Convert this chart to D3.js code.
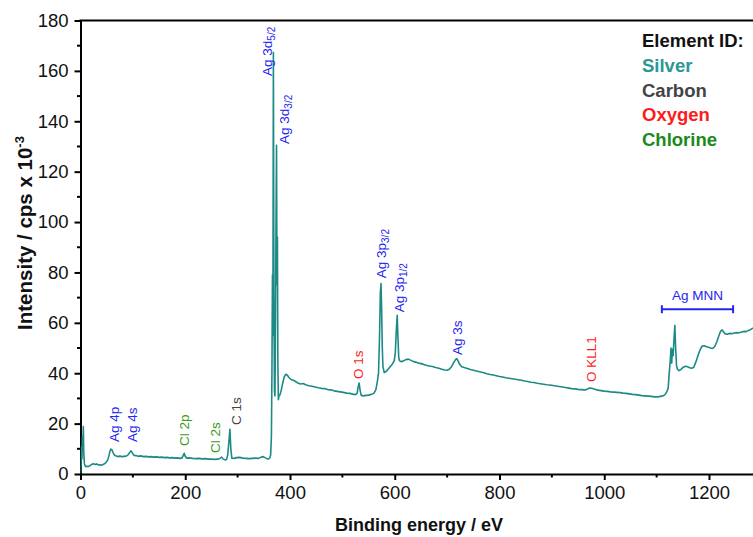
<!DOCTYPE html>
<html>
<head>
<meta charset="utf-8">
<script src="https://cdn.jsdelivr.net/npm/d3@7"></script>
<style>
  html, body { margin: 0; padding: 0; background: #fff; }
  svg { display: block; font-family: "Liberation Sans", Arial, sans-serif; }
</style>
</head>
<body>
<div id="chart"></div>
<script>
// survey spectrum, [binding energy eV, intensity cps x 1e-3]
const spectrum = [
  [0, 0.3], [1, 4], [2, 11], [2.8, 6], [3.6, 15], [4.5, 9], [5.4, 18.8], [6.3, 8], [7.5, 4], [9, 3.2],
  [10.5, 2.9], [13, 3.1], [16, 3.0], [19, 3.4], [22, 3.9], [25, 4.1], [28, 3.8], [31, 4.0], [34, 3.6],
  [37, 3.7], [40, 3.5], [43, 3.8], [46, 4.1], [49, 4.6], [52, 5.6], [54, 7.0], [56, 8.8], [58, 9.9],
  [60, 9.6], [62, 8.6], [64.5, 7.6], [67, 7.2], [71, 6.9], [75, 7.1], [79, 6.9], [83, 7.0], [87, 7.1],
  [90, 7.4], [93, 8.2], [96.4, 9.2], [99, 8.4], [102, 7.4], [106, 7.3], [110, 7.0], [115, 7.2],
  [120, 6.9], [125, 7.0], [130, 6.8], [135, 6.9], [140, 6.7], [145, 6.8], [150, 6.6], [155, 6.7],
  [160, 6.5], [165, 6.6], [170, 6.4], [175, 6.5], [180, 6.3], [185, 6.4], [190, 6.2], [194, 6.4],
  [196, 7.3], [198, 8.2], [200, 7.0], [203, 6.3], [208, 6.4], [214, 6.2], [220, 6.1], [226, 6.2],
  [232, 6.0], [238, 6.1], [244, 5.9], [250, 5.9], [256, 5.8], [262, 5.9], [266, 6.2], [269.5, 6.7],
  [272, 6.0], [276, 5.6], [279, 5.8], [281, 7.5], [283, 12], [285.3, 17.7], [287, 10], [289, 6.3],
  [293, 6.2], [298, 6.5], [304, 6.6], [310, 6.3], [316, 6.2], [322, 6.1], [328, 6.2], [334, 6.3],
  [340, 6.2], [345, 6.7], [349, 6.9], [353, 6.4], [358, 5.9], [361, 6.2], [363, 7.5],
  [364.5, 15], [365.5, 40], [366.5, 79], [367.3, 55], [368.3, 167.3], [369.3, 70], [370.3, 33],
  [371.3, 31], [372.3, 60], [373.3, 100], [374.3, 130.5], [375.2, 75], [376, 94], [376.8, 45],
  [377.8, 29.5], [379, 31], [381, 31.5], [383, 33], [386, 36], [389, 38.5], [392, 39.6], [395, 39.2],
  [398, 38.3], [402, 37.5], [406, 37.2], [410, 36.8], [415, 36.1], [420, 35.7], [425, 35.9],
  [430, 35.4], [436, 35.0], [442, 34.8], [448, 34.5], [454, 34.2], [460, 34.0], [466, 33.9],
  [472, 33.5], [478, 33.4], [484, 33.0], [490, 32.8], [496, 32.6], [502, 32.4], [508, 32.1],
  [514, 32.0], [520, 31.7], [525, 31.5], [528, 31.9], [530, 34.5], [532, 36.1], [534, 33],
  [536, 31.2], [540, 31.0], [545, 31.2], [550, 31.3], [555, 31.6], [560, 32.0], [564, 33.5],
  [567, 37], [569, 40], [571, 55], [572.5, 72], [573.8, 75.6], [575, 65], [576.2, 50], [577.5, 42.5],
  [580, 40.3], [584, 40.8], [588, 41.8], [592, 42.8], [596, 43.8], [599, 45], [601, 48], [603, 57],
  [604.7, 63], [606, 55], [607.5, 46.5], [609, 45], [612, 44.6], [616, 44.8], [621, 45.4],
  [626, 45.6], [631, 45.1], [636, 44.6], [642, 44.3], [648, 43.9], [654, 43.6], [660, 43.2],
  [666, 42.9], [672, 42.7], [678, 42.3], [684, 42.0], [690, 41.6], [696, 41.3], [700, 41.2],
  [704, 41.6], [708, 42.5], [712, 44], [716, 45.4], [718.5, 45.8], [721, 44.8], [724, 43.5],
  [728, 42.6], [734, 42.2], [740, 41.8], [746, 41.4], [752, 41.1], [758, 40.8], [764, 40.5],
  [770, 40.2], [776, 39.8], [782, 39.5], [788, 39.3], [794, 39.0], [800, 38.7], [806, 38.5],
  [812, 38.2], [818, 38.0], [824, 37.8], [830, 37.6], [836, 37.4], [842, 37.2], [848, 36.9],
  [854, 36.7], [860, 36.4], [866, 36.3], [872, 36.0], [878, 35.8], [884, 35.6], [890, 35.4],
  [896, 35.3], [902, 35.1], [908, 34.9], [914, 34.7], [920, 34.5], [926, 34.3], [932, 34.1],
  [938, 33.9], [944, 33.8], [950, 33.6], [956, 33.5], [962, 33.4], [966, 33.5], [970, 34.0],
  [974, 34.1], [978, 33.9], [982, 33.6], [988, 33.3], [994, 33.1], [1000, 32.9], [1006, 32.8],
  [1012, 32.6], [1018, 32.5], [1024, 32.4], [1030, 32.3], [1036, 32.1], [1042, 32.0], [1048, 31.8],
  [1054, 31.6], [1060, 31.5], [1066, 31.3], [1072, 31.1], [1078, 31.0], [1084, 30.9], [1090, 30.8],
  [1096, 30.6], [1102, 30.6], [1107, 30.8], [1112, 31.0], [1116, 31.5], [1119, 32.5], [1122, 34],
  [1124, 40], [1126, 45], [1127.5, 50], [1128.8, 44], [1130, 49.5], [1131.5, 47], [1133, 53],
  [1134.8, 59], [1136.3, 50], [1138, 43], [1140, 41.5], [1143, 41.0], [1147, 41.6], [1151, 42.4],
  [1155, 42.8], [1159, 42.6], [1163, 42.2], [1167, 42.0], [1171, 42.4], [1175, 44.5], [1179, 47.0],
  [1183, 49.3], [1187, 50.8], [1191, 50.9], [1195, 50.5], [1199, 50.3], [1203, 50.0], [1207, 49.8],
  [1211, 50.6], [1215, 52.5], [1219, 55.0], [1222, 56.6], [1225, 57.2], [1228, 56.4], [1231, 55.6],
  [1235, 55.5], [1239, 55.8], [1243, 55.7], [1247, 55.9], [1251, 56.1], [1255, 56.0], [1259, 56.2],
  [1263, 56.4], [1267, 56.6], [1271, 56.5], [1275, 57.0], [1279, 57.3], [1283, 57.8], [1288, 58.1]
];

const xTicks = [0, 200, 400, 600, 800, 1000, 1200];
const yTicks = [0, 20, 40, 60, 80, 100, 120, 140, 160, 180];

// peak labels: text, subscript, baseline energy, bottom intensity, element
const peakLabels = [
  ["Ag 4p", "", 72.6, 12.7, "Ag"],
  ["Ag 4s", "", 108.8, 12.7, "Ag"],
  ["Cl 2p", "", 208, 11.1, "Cl"],
  ["Cl 2s", "", 267, 8.3, "Cl"],
  ["C 1s", "", 307, 19.4, "C"],
  ["Ag 3d", "5/2", 364.7, 158, "Ag"],
  ["Ag 3d", "3/2", 399, 131, "Ag"],
  ["O 1s", "", 540, 37.7, "O"],
  ["Ag 3p", "3/2", 584, 77.7, "Ag"],
  ["Ag 3p", "1/2", 616.8, 64.2, "Ag"],
  ["Ag 3s", "", 727.5, 47.2, "Ag"],
  ["O KLL1", "", 985, 36.5, "O"]
];

const augerRange = [1110, 1246];
const augerLevel = 65.4;

const legendTitle = "Element ID:";
const legendNames = ["Silver", "Carbon", "Oxygen", "Chlorine"];
const legendColors = ["#2a9895", "#444444", "#ff1a1a", "#1a8a1a"];
const labelColors = { Ag: "#2626f0", C: "#444444", O: "#ff1a1a", Cl: "#3a9a1a" };

const W = 753, H = 537;
const margin = { left: 80.5, top: 20.5, bottom: 63 };

const svg = d3.select("#chart").append("svg")
  .attr("width", W)
  .attr("height", H);

const x = d3.scaleLinear().domain([0, 1284]).range([margin.left, W]);
const y = d3.scaleLinear().domain([0, 180]).range([H - margin.bottom, margin.top]);

svg.append("defs").append("clipPath").attr("id", "clip")
  .append("rect")
  .attr("x", margin.left).attr("y", margin.top)
  .attr("width", W - margin.left).attr("height", y(0) - margin.top);

// minor ticks
const minorX = d3.range(100, 1300, 200);
const minorY = d3.range(10, 180, 20);

svg.append("g").selectAll("line").data(minorX).join("line")
  .attr("x1", (d) => x(d)).attr("x2", (d) => x(d))
  .attr("y1", y(0)).attr("y2", y(0) + 3.5)
  .attr("stroke", "#000").attr("stroke-width", 2);

svg.append("g").selectAll("line").data(minorY).join("line")
  .attr("x1", margin.left - 3.5).attr("x2", margin.left)
  .attr("y1", (d) => y(d)).attr("y2", (d) => y(d))
  .attr("stroke", "#000").attr("stroke-width", 2);

const xAxis = svg.append("g")
  .attr("transform", `translate(0,${y(0)})`)
  .call(d3.axisBottom(x).tickValues(xTicks).tickFormat(d3.format("d"))
    .tickSize(6).tickPadding(6).tickSizeOuter(0));

const yAxis = svg.append("g")
  .attr("transform", `translate(${margin.left},0)`)
  .call(d3.axisLeft(y).tickValues(yTicks).tickSize(6).tickPadding(6).tickSizeOuter(0));

[xAxis, yAxis].forEach((g) => {
  g.select(".domain").attr("stroke-width", 2);
  g.selectAll(".tick line").attr("stroke-width", 2);
  g.selectAll(".tick text")
    .attr("font-size", 18.5)
    .attr("font-family", "Liberation Sans, Arial, sans-serif")
    .attr("fill", "#111");
});

// top frame line
svg.append("line")
  .attr("x1", margin.left - 1).attr("x2", W)
  .attr("y1", y(180)).attr("y2", y(180))
  .attr("stroke", "#000").attr("stroke-width", 2);

// spectrum
const line = d3.line()
  .x((d) => x(d[0]))
  .y((d) => y(d[1]));

svg.append("g").attr("clip-path", "url(#clip)")
  .append("path")
  .datum(spectrum)
  .attr("d", line)
  .attr("fill", "none")
  .attr("stroke", "#1d8a86")
  .attr("stroke-width", 1.6)
  .attr("stroke-linejoin", "round");

// peak labels (rotated)
const labels = svg.append("g").selectAll("text").data(peakLabels).join("text")
  .attr("transform", (d) => `translate(${x(d[2])},${y(d[3])}) rotate(-90)`)
  .attr("font-size", 13.5)
  .attr("fill", (d) => labelColors[d[4]])
  .text((d) => d[0]);

labels.filter((d) => d[1] !== "")
  .append("tspan")
  .attr("dy", 3)
  .attr("font-size", 10)
  .text((d) => d[1]);

// Auger bracket
const bracket = svg.append("g").attr("stroke", "#2626f0").attr("stroke-width", 2);
bracket.append("line")
  .attr("x1", x(augerRange[0])).attr("x2", x(augerRange[1]))
  .attr("y1", y(augerLevel)).attr("y2", y(augerLevel));
augerRange.forEach((e) => {
  bracket.append("line")
    .attr("x1", x(e)).attr("x2", x(e))
    .attr("y1", y(augerLevel) - 4).attr("y2", y(augerLevel) + 4);
});
svg.append("text")
  .attr("x", x((augerRange[0] + augerRange[1]) / 2))
  .attr("y", y(augerLevel) - 9)
  .attr("text-anchor", "middle")
  .attr("font-size", 13.5)
  .attr("fill", "#2626f0")
  .text("Ag MNN");

// axis titles
svg.append("text")
  .attr("x", 419).attr("y", 531)
  .attr("text-anchor", "middle")
  .attr("font-size", 18).attr("font-weight", "bold")
  .attr("fill", "#111")
  .text("Binding energy / eV");

const yTitle = svg.append("text")
  .attr("transform", `translate(32,233) rotate(-90)`)
  .attr("text-anchor", "middle")
  .attr("font-size", 20.5).attr("font-weight", "bold")
  .attr("fill", "#111")
  .text("Intensity / cps x 10");
yTitle.append("tspan").attr("dy", -8).attr("font-size", 13).text("-3");

// legend
svg.append("text")
  .attr("x", 642).attr("y", 47)
  .attr("font-size", 18.5).attr("font-weight", "bold")
  .attr("fill", "#111")
  .text(legendTitle);

svg.append("g").selectAll("text").data(legendNames).join("text")
  .attr("x", 642)
  .attr("y", (d, i) => 72 + i * 24.5)
  .attr("font-size", 18.5).attr("font-weight", "bold")
  .attr("fill", (d, i) => legendColors[i])
  .text((d) => d);
</script>
</body>
</html>
